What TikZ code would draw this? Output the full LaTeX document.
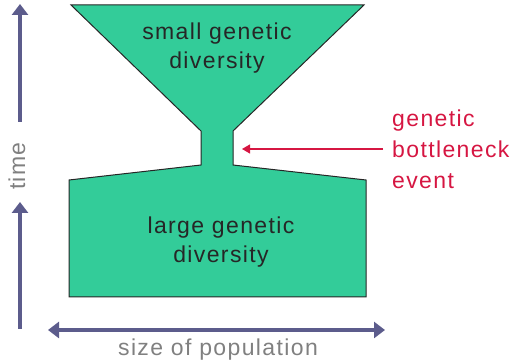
\documentclass[tikz,border=0pt]{standalone}
\usepackage{fontspec}
\setmainfont{Liberation Sans}[LetterSpace=6]
\usetikzlibrary{arrows.meta}
\definecolor{popgreen}{RGB}{51,204,153}
\definecolor{axisblue}{RGB}{92,92,140}
\definecolor{evred}{RGB}{214,22,66}
\definecolor{labgray}{RGB}{128,128,128}
\tikzset{
  popshape/.style={fill=popgreen,draw=black!85,line width=1pt,line join=miter},
  inlabel/.style={align=center,font=\fontsize{23}{29}\selectfont,text=black!85,inner sep=0pt},
  axis/.style={draw=axisblue,line width=4pt,-{Triangle[width=16pt,length=11pt]}},
  axislabel/.style={text=labgray,font=\fontsize{23}{26}\selectfont,inner sep=0pt},
  evlabel/.style={text=evred,align=left,font=\fontsize{23}{31}\selectfont,inner sep=0pt},
  evarrow/.style={draw=evred,line width=1.2pt,-{Triangle[width=9pt,length=8pt]}}
}
\begin{document}
\begin{tikzpicture}[x=1pt,y=-1pt]
\useasboundingbox (0,0) rectangle (512,363);
\path[popshape] (71,5) -- (364,5) -- (233,131) -- (233,165) -- (366,180) -- (366,297)
  -- (69,297) -- (69,180) -- (201,165) -- (201,131) -- cycle;
\node[inlabel] (small) at (217,48) {small genetic\\diversity};
\node[inlabel] (large) at (221,242) {large genetic\\diversity};
\node[evlabel,anchor=west] (event) at (392,149) {genetic\\bottleneck\\event};
\coordinate (neck) at (242,149);
\coordinate (evstart) at (383,149);
\draw[evarrow] (evstart) -- (neck);
\node[axislabel,rotate=90] (time) at (17,166) {time};
\coordinate (t1s) at (20,122);
\coordinate (t1e) at (20,4);
\coordinate (t2s) at (20,329);
\coordinate (t2e) at (20,202);
\draw[axis] (t1s) -- (t1e);
\draw[axis] (t2s) -- (t2e);
\node[axislabel] (size) at (218,350) {size of population};
\coordinate (sl) at (48,330);
\coordinate (sr) at (385,330);
\draw[axis,{Triangle[width=16pt,length=11pt]}-{Triangle[width=16pt,length=11pt]}] (sl) -- (sr);
\end{tikzpicture}
\end{document}
